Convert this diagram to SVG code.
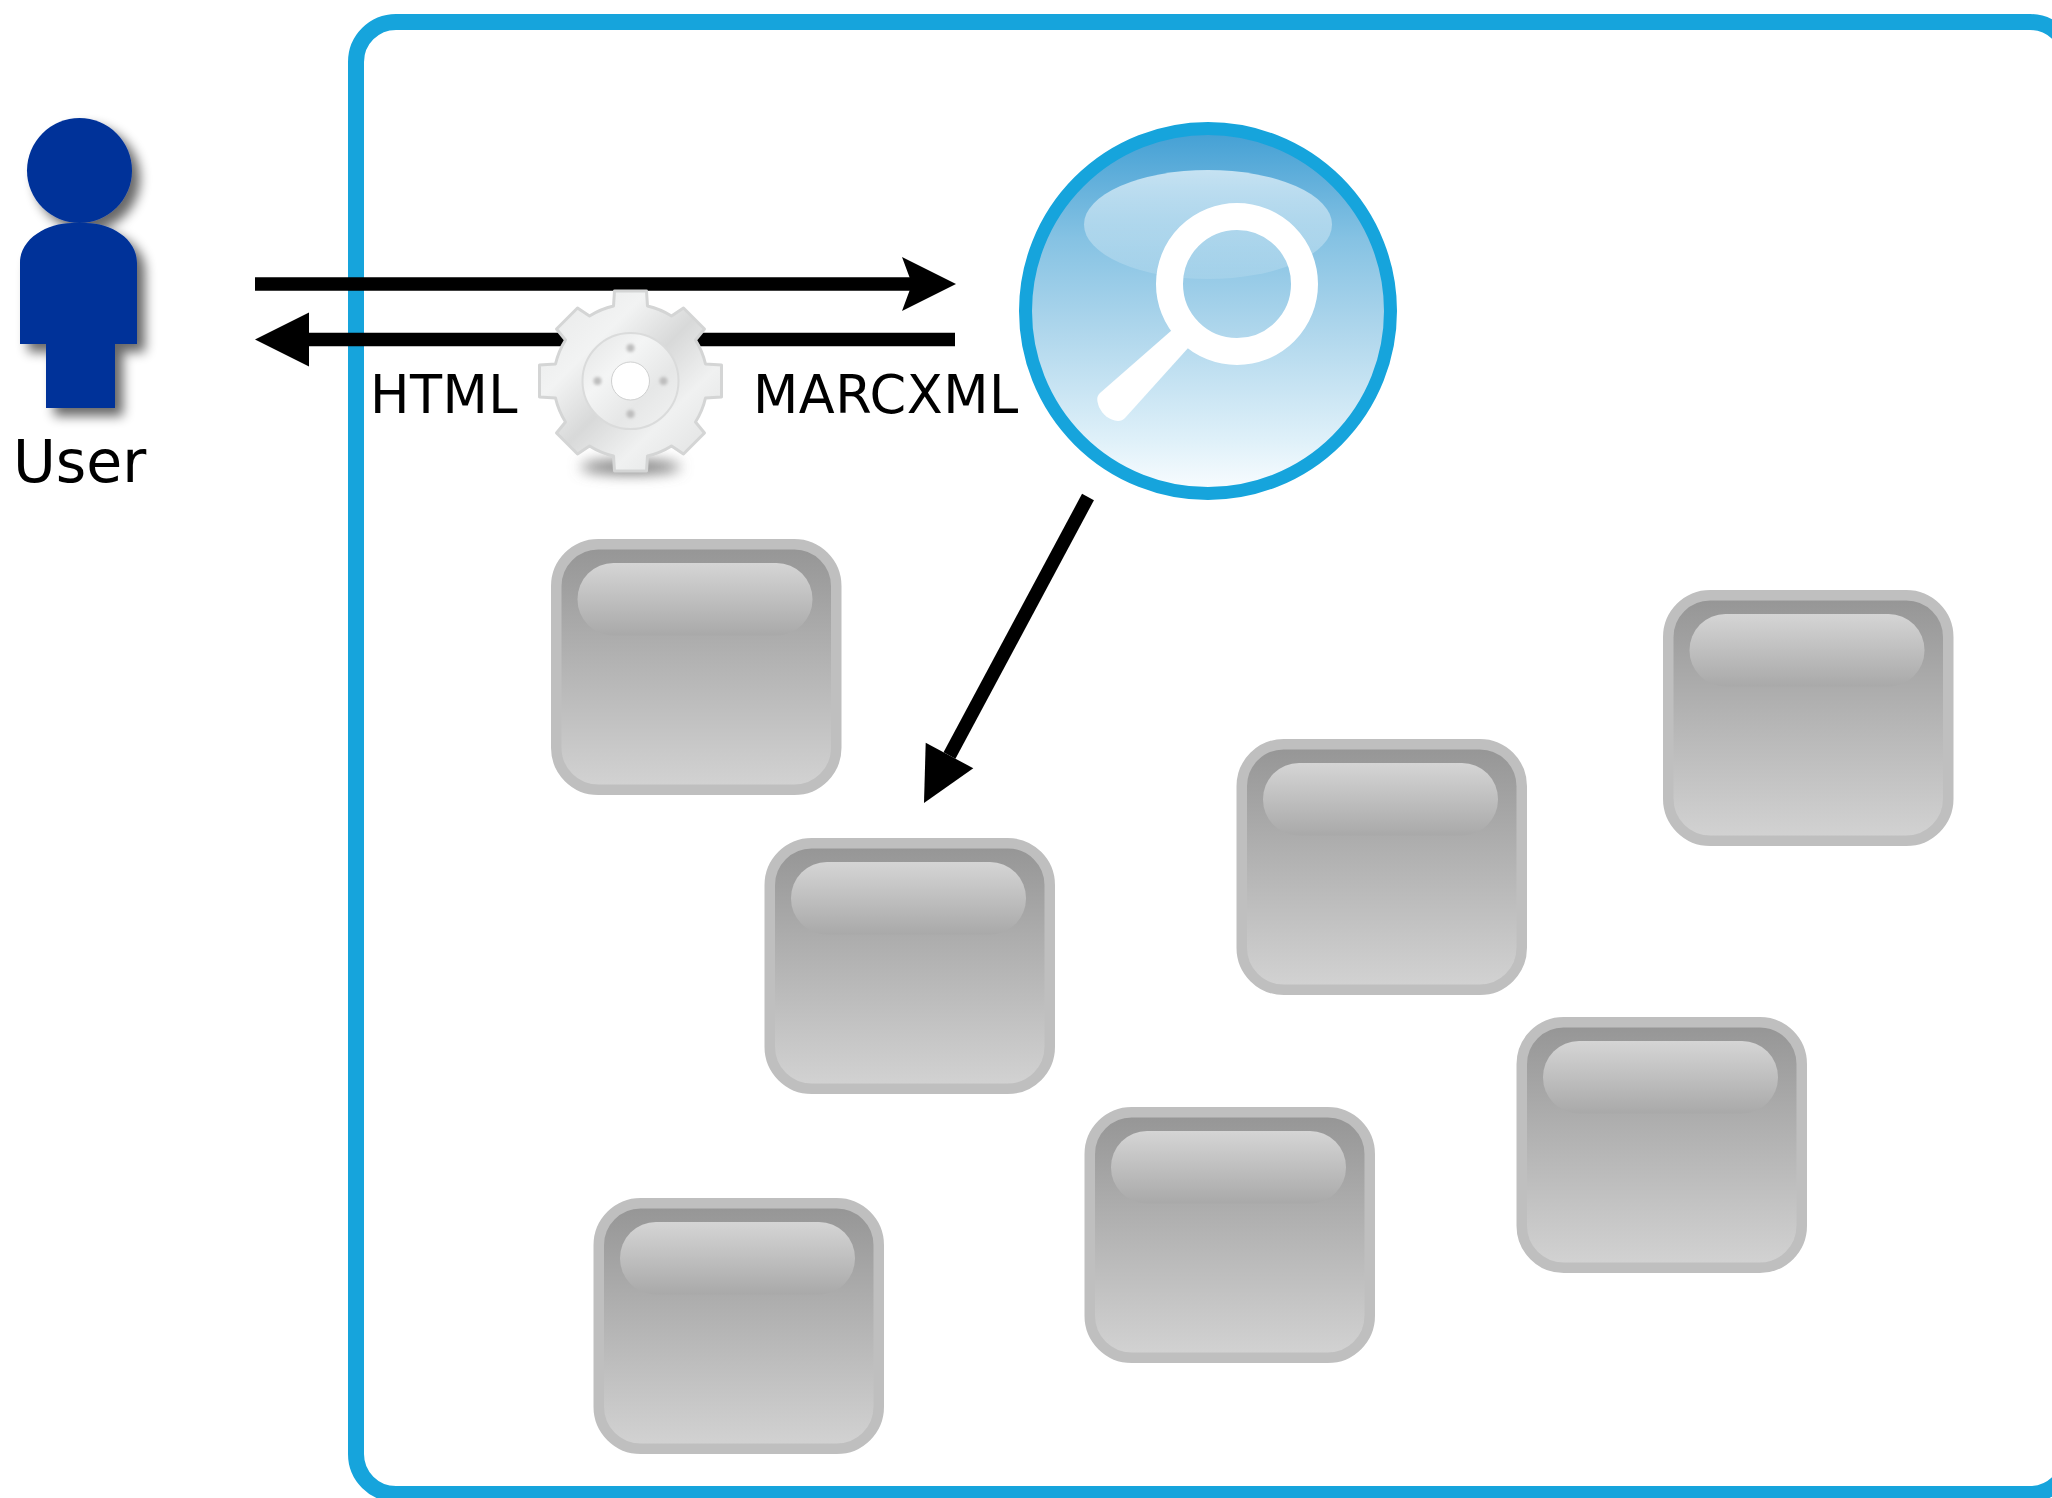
<svg xmlns="http://www.w3.org/2000/svg" width="2052" height="1498" viewBox="0 0 2052 1498">
<style>
text{font-family:"DejaVu Sans",Verdana,sans-serif;fill:#000}
.lbl{font-size:52.500px;letter-spacing:.5px}
.box{fill:url(#boxFill);stroke:#bfbfbf;stroke-width:10.500}
.pill{fill:url(#pillFill)}
.conn{stroke:#000;stroke-width:13.500;fill:none}
.person{fill:#003399}
.dot{fill:#bdbdbd;filter:url(#soft)}
</style>
<defs>
<linearGradient id="boxFill" x1="0" y1="0" x2="0" y2="1"><stop offset="0" stop-color="#959595"/><stop offset="1" stop-color="#d3d3d3"/></linearGradient>
<linearGradient id="pillFill" x1="0" y1="0" x2="0" y2="1"><stop offset="0" stop-color="#d5d5d5"/><stop offset="1" stop-color="#a9a9a9"/></linearGradient>
<linearGradient id="globeFill" x1="0" y1="0" x2="0" y2="1"><stop offset="0" stop-color="#429fd4"/><stop offset=".3" stop-color="#85c2e3"/><stop offset=".55" stop-color="#aed6ec"/><stop offset=".85" stop-color="#def0f9"/><stop offset="1" stop-color="#fafdff"/></linearGradient>
<linearGradient id="glare" x1="0" y1="0" x2="0" y2="1"><stop offset="0" stop-color="#fff" stop-opacity=".65"/><stop offset="1" stop-color="#fff" stop-opacity=".12"/></linearGradient>
<linearGradient id="metal" x1="0" y1="0" x2="1" y2="1"><stop offset="0" stop-color="#e6e7e7"/><stop offset=".3" stop-color="#f2f3f3"/><stop offset=".5" stop-color="#d8d9d9"/><stop offset=".7" stop-color="#f0f1f1"/><stop offset="1" stop-color="#dcdddd"/></linearGradient>
<linearGradient id="hub" x1="0" y1="0" x2="1" y2="1"><stop offset="0" stop-color="#e3e4e4"/><stop offset=".35" stop-color="#f4f5f5"/><stop offset=".65" stop-color="#e6e7e7"/><stop offset="1" stop-color="#f2f3f3"/></linearGradient>
<filter id="drop" x="-30%" y="-20%" width="160%" height="140%"><feGaussianBlur in="SourceAlpha" stdDeviation="6"/><feOffset dx="8" dy="8"/><feComponentTransfer><feFuncA type="linear" slope=".6"/></feComponentTransfer><feMerge><feMergeNode/><feMergeNode in="SourceGraphic"/></feMerge></filter>
<filter id="soft" x="-100%" y="-100%" width="300%" height="300%"><feGaussianBlur stdDeviation="1.500"/></filter>
<filter id="shade" x="-40%" y="-150%" width="180%" height="400%"><feGaussianBlur stdDeviation="7"/></filter>
<filter id="raster" x="-5%" y="-5%" width="110%" height="110%"><feGaussianBlur stdDeviation=".7"/></filter>
<marker id="headNotch" markerUnits="userSpaceOnUse" viewBox="-1 -28 56 56" markerWidth="56" markerHeight="56" refX="10" refY="0" orient="auto"><path d="M0-27 54 0 0 27 10 0Z" fill="#000"/></marker>
<marker id="headFlat" markerUnits="userSpaceOnUse" viewBox="-1 -28 56 56" markerWidth="56" markerHeight="56" refX="0" refY="0" orient="auto"><path d="M0-27 54 0 0 27Z" fill="#000"/></marker>
</defs>
<rect width="2052" height="1498" fill="#fff"/>
<g id="frame"><rect x="356" y="22" width="1714" height="1472" rx="40" fill="none" stroke="#16a4dc" stroke-width="16"/></g>
<g id="connectors">
<path class="conn" d="M255 284H912" marker-end="url(#headNotch)"/>
<path class="conn" d="M955 339.500H309" marker-end="url(#headFlat)"/>
<path class="conn" d="M1088 497 949.500 755.500" marker-end="url(#headFlat)"/>
</g>
<g id="user">
<g class="person" filter="url(#drop)">
<circle cx="79.500" cy="170.500" r="52.500"/>
<path d="M20 344V263C20 238 48 223 72 223H86C110 223 137 238 137 263V344H115V408H46V344Z"/>
</g>
<text x="13" y="482" font-size="58.500">User</text>
</g>
<g id="gear" transform="translate(630.500 381)">
<ellipse cx="0" cy="86" rx="50" ry="7" fill="#777" filter="url(#shade)"/>
<g filter="url(#raster)">
<path d="M-17-75-16-90H16L17-75A78 78 0 0 1 41-65L53-73 74-52 65-41A78 78 0 0 1 75-17L91-16V16L75 17A78 78 0 0 1 65 41L74 52 53 73 41 65A78 78 0 0 1 17 75L16 90H-16L-17 75A78 78 0 0 1-41 65L-53 73-74 52-65 41A78 78 0 0 1-75 17L-91 16V-16L-75-17A78 78 0 0 1-65-41L-74-52-53-73-41-65A78 78 0 0 1-17-75Z" fill="url(#metal)" stroke="#d4d5d5" stroke-width="3" stroke-linejoin="round"/>
<circle r="48" fill="url(#hub)" stroke="#dadbdb" stroke-width="2"/>
<circle class="dot" cx="0" cy="-33" r="4"/>
<circle class="dot" cx="33" cy="0" r="4"/>
<circle class="dot" cx="0" cy="33" r="4"/>
<circle class="dot" cx="-33" cy="0" r="4"/>
<circle r="19" fill="#fff" stroke="#cfd0d0" stroke-width="1"/>
</g>
</g>
<g id="html-label"><text class="lbl" x="370" y="413">HTML</text></g>
<g id="marcxml-label"><text class="lbl" x="753" y="413">MARCXML</text></g>
<g id="search">
<circle cx="1208" cy="311" r="182.500" fill="url(#globeFill)" stroke="#16a4dc" stroke-width="13"/>
<ellipse cx="1208" cy="224.500" rx="124" ry="54.500" fill="url(#glare)"/>
<circle cx="1237" cy="284" r="67.500" fill="none" stroke="#fff" stroke-width="27"/>
<path d="M1172 330 1100 393C1096 397 1097 401 1099 407 1103 415 1109 420 1118 421 1121 421 1123 420 1125 418L1189 347Z" fill="#fff"/>
</g>
<g id="node-1" transform="translate(551 539)"><rect class="box" x="5.250" y="5.250" width="280" height="245.500" rx="42"/><rect class="pill" x="26.500" y="24" width="235" height="72.500" rx="36"/></g>
<g id="node-2" transform="translate(764.500 838)"><rect class="box" x="5.250" y="5.250" width="280" height="245.500" rx="42"/><rect class="pill" x="26.500" y="24" width="235" height="72.500" rx="36"/></g>
<g id="node-3" transform="translate(1236.500 739)"><rect class="box" x="5.250" y="5.250" width="280" height="245.500" rx="42"/><rect class="pill" x="26.500" y="24" width="235" height="72.500" rx="36"/></g>
<g id="node-4" transform="translate(1663 590)"><rect class="box" x="5.250" y="5.250" width="280" height="245.500" rx="42"/><rect class="pill" x="26.500" y="24" width="235" height="72.500" rx="36"/></g>
<g id="node-5" transform="translate(1516.500 1017)"><rect class="box" x="5.250" y="5.250" width="280" height="245.500" rx="42"/><rect class="pill" x="26.500" y="24" width="235" height="72.500" rx="36"/></g>
<g id="node-6" transform="translate(1084.500 1107)"><rect class="box" x="5.250" y="5.250" width="280" height="245.500" rx="42"/><rect class="pill" x="26.500" y="24" width="235" height="72.500" rx="36"/></g>
<g id="node-7" transform="translate(593.500 1198)"><rect class="box" x="5.250" y="5.250" width="280" height="245.500" rx="42"/><rect class="pill" x="26.500" y="24" width="235" height="72.500" rx="36"/></g>
</svg>
